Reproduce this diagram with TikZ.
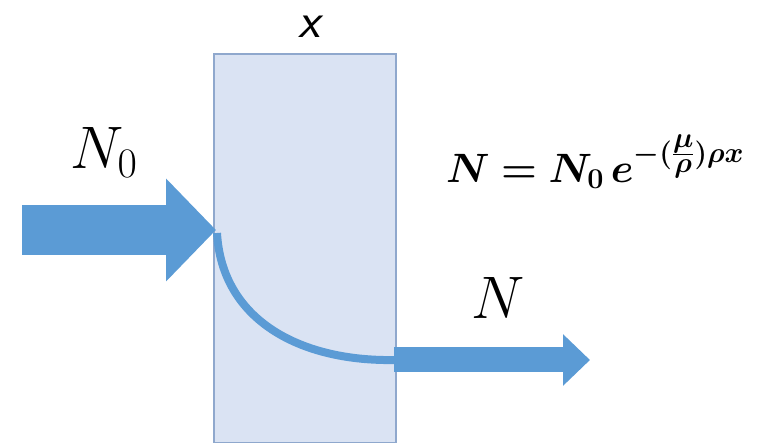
\RequirePackage{fix-cm}
\documentclass[tikz,border=0pt]{standalone}
\usepackage{amsmath}
\usepackage{bm}
\usetikzlibrary{arrows.meta}
\definecolor{beamblue}{RGB}{91,155,213}
\definecolor{slabfill}{RGB}{218,227,243}
\definecolor{slabline}{RGB}{143,168,205}
\tikzset{
  slab/.style={draw=slabline, line width=1.2pt, fill=slabfill,
    minimum width=182pt, minimum height=389pt, inner sep=0pt},
  inbeam/.style={beamblue, line width=50pt, -{Triangle[length=50pt,width=100pt]}},
  outbeam/.style={beamblue, line width=25pt, -{Triangle[length=27pt,width=50pt]}},
  decay/.style={beamblue, line width=8pt},
  biglabel/.style={font=\fontsize{60}{60}\selectfont, inner sep=0pt}
}
\begin{document}
\begin{tikzpicture}[x=1pt, y=-1pt]
    \useasboundingbox (0,0) rectangle (769,443);
    \fill[white] (0,0) rectangle (769,443);

    % slab of absorber
    \node[slab] (slab) at (305,248.5) {};
    \node[font=\fontsize{50}{50}\selectfont\sffamily\itshape, inner sep=0pt] (thick) at (309,27) {x};

    % incoming and outgoing beams
    \coordinate (src) at (22,230);
    \coordinate (hit) at (216,230);
    \coordinate (exit) at (396,360);
    \coordinate (dst) at (590,360);
    \draw[inbeam] (src) -- (hit);
    \draw[decay] (217,233) .. controls (222,320) and (300,362) .. (exit);
    \draw[outbeam] ([xshift=-2pt]exit) -- (dst);

    % labels
    \node[biglabel] (nin) at (104,153) {$N_0$};
    \node[biglabel] (nout) at (498,298) {$N$};
    \node[font=\fontsize{41}{41}\selectfont, inner sep=0pt, anchor=west] (law) at (446,162)
        {$\bm{N} \mathrel{\bm{=}} \bm{N_0\, e^{-(\frac{\scriptstyle\mu}{\scriptstyle\rho})\rho x}}$};
\end{tikzpicture}
\end{document}
